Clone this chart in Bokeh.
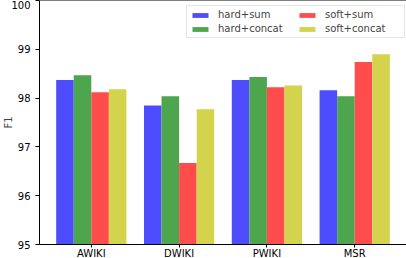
from bokeh.plotting import figure
from bokeh.models import FactorRange, FixedTicker, Legend, LegendItem, ColumnDataSource, Span
from bokeh.transform import dodge
from bokeh.embed import file_html
from bokeh.resources import INLINE

categories = ["AWIKI", "DWIKI", "PWIKI", "MSR"]
series_names = ["hard+sum", "hard+concat", "soft+sum", "soft+concat"]
hard_sum = [98.37, 97.85, 98.37, 98.16]
hard_concat = [98.47, 98.04, 98.43, 98.04]
soft_sum = [98.12, 96.67, 98.22, 98.74]
soft_concat = [98.18, 97.77, 98.26, 98.90]
y_ticks = [95, 96, 97, 98, 99, 100]
colors = ["#4d4dff", "#4da64d", "#ff4d4d", "#d3d34d"]

source = ColumnDataSource(dict(cat=categories, hard_sum=hard_sum, hard_concat=hard_concat,
                               soft_sum=soft_sum, soft_concat=soft_concat))
cols = ["hard_sum", "hard_concat", "soft_sum", "soft_concat"]
offsets = [-0.3, -0.1, 0.1, 0.3]

FONT = "DejaVu Sans"
FS = "10px"

p = figure(width=406, height=258, x_range=FactorRange(*categories, range_padding=0.045),
           y_range=(95, 100), output_backend="svg", toolbar_location=None,
           min_border_left=0, min_border_right=0, min_border_top=0, min_border_bottom=0)
p.background_fill_color = "white"
p.border_fill_color = "white"
p.outline_line_color = None
p.xgrid.visible = False
p.ygrid.visible = False

renderers = []
for col, off, c in zip(cols, offsets, colors):
    r = p.vbar(x=dodge("cat", off, range=p.x_range), top=col, bottom=0, width=0.2,
               source=source, fill_color=c, line_color=None)
    renderers.append(r)

for ax in (p.xaxis[0], p.yaxis[0]):
    ax.major_label_text_font = FONT
    ax.major_label_text_font_size = FS
    ax.major_label_text_color = "black"
    ax.axis_line_color = "black"
    ax.major_tick_line_color = "black"
    ax.major_tick_in = 0
    ax.minor_tick_line_color = None

p.yaxis.major_tick_out = 4
p.xaxis.major_tick_out = 3
p.yaxis.ticker = FixedTicker(ticks=y_ticks)
p.yaxis.axis_label = "F1"
p.yaxis.axis_label_text_font = FONT
p.yaxis.axis_label_text_font_size = FS
p.yaxis.axis_label_text_font_style = "normal"
p.yaxis.axis_label_standoff = -6
p.yaxis.major_label_standoff = 5
p.xaxis.major_label_standoff = 0
# empty spacer label with negative standoff so the frame sits as low as possible while tick labels stay visible
p.xaxis.axis_label = " "
p.xaxis.axis_label_text_font_size = "1px"
p.xaxis.axis_label_standoff = -7

p.add_layout(Span(location=y_ticks[-1], dimension="width", line_color="black", line_width=1))

items = [LegendItem(label=n, renderers=[r]) for n, r in zip(series_names, renderers)]
legend = Legend(items=items, ncols=2, location=(147, 206))
legend.label_text_font = FONT
legend.label_text_font_size = FS
legend.glyph_width = 20
legend.glyph_height = 6
legend.label_height = 10
legend.label_width = 76
legend.label_standoff = 8
legend.padding = 3
legend.spacing = 3
legend.margin = 0
legend.border_line_color = "#cccccc"
legend.background_fill_alpha = 1.0
p.add_layout(legend)

open("out.html", "w").write(file_html(p, INLINE))
